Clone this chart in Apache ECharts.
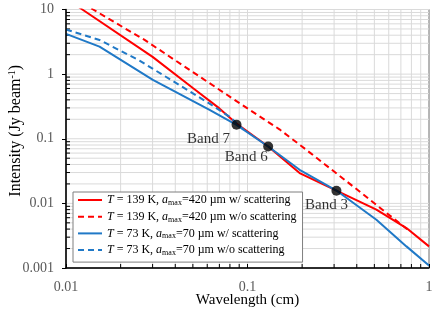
<!DOCTYPE html>
<html><head><meta charset="utf-8">
<script src="https://cdn.jsdelivr.net/npm/echarts@6/dist/echarts.min.js"></script>
<style>html,body{margin:0;padding:0;background:#fff}#c{width:436px;height:315px}</style>
</head><body><div id="c"></div>
<script>
// ---- data (wavelength in cm, intensity in Jy/beam) ----
const wlRedW   = [0.01, 0.0123, 0.03, 0.05, 0.07, 0.087, 0.13, 0.1937, 0.309, 0.513, 0.751, 1.0];
const intRedW  = [15, 10, 1.85, 0.61, 0.295, 0.172, 0.076, 0.0294, 0.0158, 0.0080, 0.00415, 0.00216];
const wlRedWo  = [0.01, 0.0141, 0.0271, 0.0545, 0.1027, 0.15, 0.211, 0.4, 0.783];
const intRedWo = [18.5, 10, 3.38, 0.915, 0.28, 0.14, 0.0673, 0.0165, 0.0037];
const wlBlueW  = [0.01, 0.0153, 0.0301, 0.0618, 0.087, 0.13, 0.1937, 0.309, 0.513, 0.751, 1.0];
const intBlueW = [4.2, 2.66, 0.814, 0.28, 0.164, 0.0758, 0.0331, 0.0158, 0.00558, 0.00216, 0.00109];
const wlBlueWo  = [0.01, 0.0153, 0.0254, 0.0618, 0.0732, 0.0796, 0.095];
const intBlueWo = [4.9, 3.38, 1.62, 0.35, 0.256, 0.22, 0.1385];
const bandNames = ['Band 7', 'Band 6', 'Band 3'];
const bandWl    = [0.087, 0.13, 0.309];
const bandInt   = [0.165, 0.0758, 0.0157];
const seriesNames = ['T139 w/', 'T139 w/o', 'T73 w/', 'T73 w/o'];
const legendLabels = [
  '{i|T} = 139 K, {i|a}{sub|max}=420 µm w/ scattering',
  '{i|T} = 139 K, {i|a}{sub|max}=420 µm w/o scattering',
  '{i|T} = 73 K, {i|a}{sub|max}=70 µm w/ scattering',
  '{i|T} = 73 K, {i|a}{sub|max}=70 µm w/o scattering'
];
const xTickVals = [0.01, 0.1, 1];
const xTickLabels = ['0.01', '0.1', '1'];
const yTickVals = [0.001, 0.01, 0.1, 1, 10];
const yTickLabels = ['0.001', '0.01', '0.1', '1', '10'];
const xDecades = [0.01, 0.1];
const yDecades = [0.001, 0.01, 0.1, 1];

const FONT = 'Liberation Serif';
const RED = '#ff0000', BLUE = '#2079c7';
const zip = (a, b) => a.map((v, i) => [v, b[i]]);
const pick = (vals, labels) => v => {
  const i = vals.findIndex(t => Math.abs(Math.log10(t) - Math.log10(v)) < 1e-6);
  return i >= 0 ? labels[i] : '';
};

// gridlines: [x, y, kind(0=vertical,1=horizontal), tick(0/1)]
const gridData = [];
xTickVals.forEach(v => gridData.push([v, 1, 0, 0]));
yTickVals.forEach(v => gridData.push([0.1, v, 1, 0]));
xDecades.forEach(d => { for (let m = 2; m <= 9; m++) gridData.push([+(m * d).toPrecision(3), 1, 0, 1]); });
yDecades.forEach(d => { for (let m = 2; m <= 9; m++) gridData.push([0.1, +(m * d).toPrecision(3), 1, 1]); });

const chart = echarts.init(document.getElementById('c'), null, {renderer: 'canvas'});
const lineSeries = (name, data, color, dashed) => ({
  name, type: 'line', data, symbol: 'none', z: 3,
  lineStyle: {color, width: 2, type: dashed ? [6, 4] : 'solid'},
  itemStyle: {color}
});
chart.setOption({
  animation: false,
  textStyle: {fontFamily: FONT},
  grid: {left: 66, right: 7, top: 9.5, bottom: 47, containLabel: false, outerBoundsMode: 'none',
    show: true, borderColor: '#222', borderWidth: 1, backgroundColor: 'transparent'},
  xAxis: {
    type: 'log', logBase: 10, min: 0.01, max: 1, interval: 1, z: 5,
    name: 'Wavelength (cm)', nameLocation: 'middle', nameGap: 25, nameMoveOverlap: false,
    nameTextStyle: {fontFamily: FONT, fontSize: 15, color: '#000'},
    axisLine: {lineStyle: {color: '#000', width: 1.5}},
    axisTick: {show: true, inside: true, length: 4, lineStyle: {color: '#000'}},
    axisLabel: {fontFamily: FONT, fontSize: 14, color: '#595959', margin: 12, formatter: pick(xTickVals, xTickLabels)},
    splitLine: {show: false}, minorTick: {show: false}
  },
  yAxis: {
    type: 'log', logBase: 10, min: 0.001, max: 10, interval: 1, z: 5,
    name: 'Intensity (Jy beam{sup|-1})', nameLocation: 'middle', nameGap: 42, nameRotate: 90, nameMoveOverlap: false,
    nameTextStyle: {fontFamily: FONT, fontSize: 16, color: '#000', padding: [0, 0, 0, 16],
      rich: {sup: {fontFamily: FONT, fontSize: 10, color: '#000', padding: [0, 0, 7, 0]}}},
    axisLine: {lineStyle: {color: '#000', width: 1.5}},
    axisTick: {show: true, inside: false, length: 4, lineStyle: {color: '#000'}},
    axisLabel: {fontFamily: FONT, fontSize: 14, color: '#595959', margin: 12, formatter: pick(yTickVals, yTickLabels)},
    splitLine: {show: false}, minorTick: {show: false}
  },
  legend: {
    data: seriesNames, orient: 'vertical', left: 73, top: 192,
    itemWidth: 24, itemHeight: 14, itemGap: 2.7,
    itemStyle: {opacity: 0},
    padding: [1, 6, 5, 4], backgroundColor: '#fff', borderColor: '#7f7f7f', borderWidth: 1,
    formatter: name => legendLabels[seriesNames.indexOf(name)],
    textStyle: {fontFamily: FONT, fontSize: 12, color: '#000', lineHeight: 14,
      rich: {
        i: {fontFamily: FONT, fontSize: 12, fontStyle: 'italic', color: '#000', lineHeight: 14},
        sub: {fontFamily: FONT, fontSize: 8, color: '#000', lineHeight: 14, padding: [6, 0, 0, 0]}
      }},
    z: 10
  },
  series: [
    {
      type: 'custom', silent: true, z: 1, data: gridData, encode: {x: 0, y: 1}, clip: false,
      renderItem(params, api) {
        const v0 = api.value(0), v1 = api.value(1), k = api.value(2), tk = api.value(3);
        let a, b, t1, t2;
        if (k === 0) { a = api.coord([v0, 10]); b = api.coord([v0, 0.001]); t1 = b; t2 = [b[0], b[1] - 4]; }
        else { a = api.coord([0.01, v1]); b = api.coord([1, v1]); t1 = a; t2 = [a[0] + 4, a[1]]; }
        const ch = [{type: 'line', shape: {x1: a[0], y1: a[1], x2: b[0], y2: b[1]}, style: {stroke: '#dadada', lineWidth: 1}}];
        if (tk) ch.push({type: 'line', z2: 5, shape: {x1: t1[0], y1: t1[1], x2: t2[0], y2: t2[1]}, style: {stroke: '#000', lineWidth: 1}});
        return {type: 'group', children: ch};
      }
    },
    lineSeries(seriesNames[0], zip(wlRedW, intRedW), RED, false),
    lineSeries(seriesNames[1], zip(wlRedWo, intRedWo), RED, true),
    lineSeries(seriesNames[2], zip(wlBlueW, intBlueW), BLUE, false),
    lineSeries(seriesNames[3], zip(wlBlueWo, intBlueWo), BLUE, true),
    {
      type: 'scatter', z: 4, symbol: 'circle', symbolSize: 10, silent: true,
      itemStyle: {color: '#000'},
      data: bandWl.map((w, i) => ({
        value: [w, bandInt[i]], name: bandNames[i],
        label: {show: true, position: 'inside', formatter: bandNames[i], fontFamily: FONT, fontSize: 15, color: '#000',
          offset: [[-28, 14], [-22, 11], [-10, 14]][i]}
      }))
    }
  ]
});
</script></body></html>
